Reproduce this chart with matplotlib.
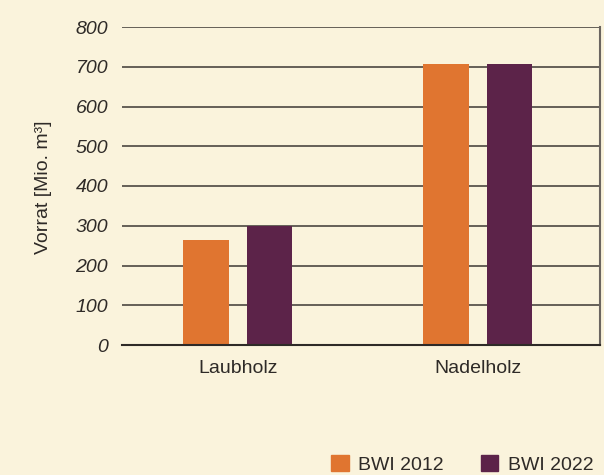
import matplotlib.pyplot as plt
import numpy as np
from matplotlib.patches import Patch

# Daten
kategorien = ["Laubholz", "Nadelholz"]
bwi_2012 = [264, 707]
bwi_2022 = [300, 707]
serien = ["BWI 2012", "BWI 2022"]
y_ticks = [0, 100, 200, 300, 400, 500, 600, 700, 800]

bg = "#faf3dc"
orange = "#e07530"
lila = "#5c2349"
text_farbe = "#2e2a27"

plt.rcParams["font.family"] = ["Liberation Sans", "DejaVu Sans"]

fig = plt.figure(figsize=(6.04, 4.75), dpi=100, facecolor=bg)
ax = fig.add_axes([122 / 604, 1 - 345 / 475, 478 / 604, 318 / 475])
ax.set_facecolor(bg)

x = np.arange(len(kategorien))
breite = 0.19
ax.bar(x - 0.133, bwi_2012, breite, color=orange, zorder=3)
ax.bar(x + 0.133, bwi_2022, breite, color=lila, zorder=3)

ax.set_xlim(-0.482, 1.51)
ax.set_ylim(0, 800)
ax.set_yticks(y_ticks)
ax.set_yticklabels([str(v) for v in y_ticks], fontstyle="italic", fontsize=14, color=text_farbe)
ax.tick_params(axis="y", length=0, pad=10)
ax.set_xticks(x)
ax.set_xticklabels(kategorien, fontsize=14, color=text_farbe)
ax.tick_params(axis="x", length=0, pad=11)

# Gitterlinien
for v in y_ticks[1:]:
    ax.axhline(v, color="#3c3833", lw=1.1, zorder=1)

ax.spines["left"].set_visible(False)
ax.spines["top"].set_visible(False)
ax.spines["bottom"].set_color(text_farbe)
ax.spines["bottom"].set_linewidth(1.5)
ax.spines["bottom"].set_zorder(4)
ax.spines["right"].set_color("#6b6560")
ax.spines["right"].set_linewidth(1.5)

# Achsentitel
ax.set_ylabel("Vorrat [Mio. m³]", fontsize=14, color=text_farbe, labelpad=0)
ax.yaxis.set_label_coords(-(122 - 43) / 478, (345 - 187) / 318)
ax.yaxis.label.set_va("center")

# Legende unten rechts
handles = [Patch(color=orange), Patch(color=lila)]
fig.legend(handles, serien, loc="upper left", bbox_to_anchor=(331 / 604, 1 - 455 / 475),
           ncol=2, frameon=False, fontsize=14, handlelength=0.9, handleheight=0.9,
           handletextpad=0.5, columnspacing=1.9, borderpad=0, borderaxespad=0,
           labelcolor=text_farbe)

fig.savefig("out.png", dpi=100, facecolor=bg)
